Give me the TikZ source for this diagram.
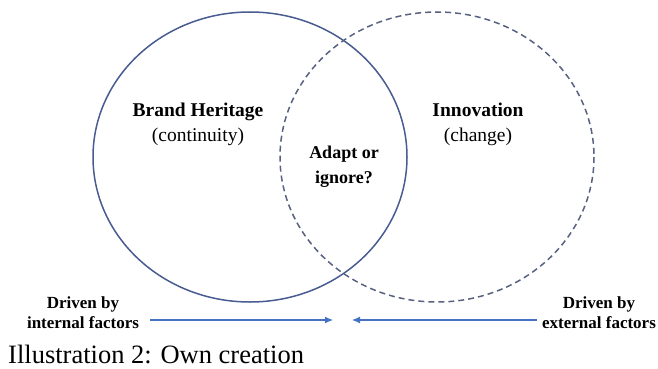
\documentclass[tikz,border=0pt]{standalone}
\usepackage{fontspec}
\setmainfont{Liberation Serif}
\usetikzlibrary{shapes,arrows.meta,positioning}
\usepackage{xcolor}

\definecolor{ringblue}{RGB}{72,92,145}
\definecolor{ringgrey}{RGB}{88,98,128}
\definecolor{arrowblue}{RGB}{68,114,196}

\begin{document}
\begin{tikzpicture}[x=1pt,y=-1pt,
        title/.style={align=center,font=\fontsize{19.5}{25}\selectfont},
        factor/.style={align=center,font=\fontsize{17}{20}\selectfont\bfseries},
        push/.style={arrowblue,line width=1.1pt,-{Latex[length=8pt,width=7pt]}}]
            \useasboundingbox (0,0) rectangle (658,369);
            \def\Y{157}
            \def\fstX{250}
            \def\sndX{437}
            \def\fstcircle{(\fstX,\Y) ellipse (157 and 145)}
            \def\sndcircle{(\sndX,\Y) ellipse (157 and 145)}

            \draw[ringblue,line width=1.5pt] \fstcircle;
            \draw[ringgrey,line width=1.5pt,dash pattern=on 6pt off 4pt] \sndcircle;

            \node[title] (heritage) at (198,124) {\textbf{Brand Heritage}\\(continuity)};
            \node[title] (innovation) at (478,124) {\textbf{Innovation}\\(change)};
            \node[title,font=\fontsize{18}{25}\selectfont\bfseries] (adapt) at (344,167) {Adapt or\\ignore?};

            \node[factor] (internal) at (83,313) {Driven by\\internal factors};
            \node[factor] (external) at (599,313) {Driven by\\external factors};

            \coordinate (intail) at (150,320);
            \coordinate (intip) at (333,320);
            \coordinate (extail) at (537,320);
            \coordinate (extip) at (352,320);
            \draw[push] (intail) -- (intip);
            \draw[push] (extail) -- (extip);

            \node[anchor=base west,inner sep=0pt,font=\fontsize{26.5}{30}\selectfont] (caption) at (8,363) {Illustration 2: Own creation};
        \end{tikzpicture}
\end{document}
